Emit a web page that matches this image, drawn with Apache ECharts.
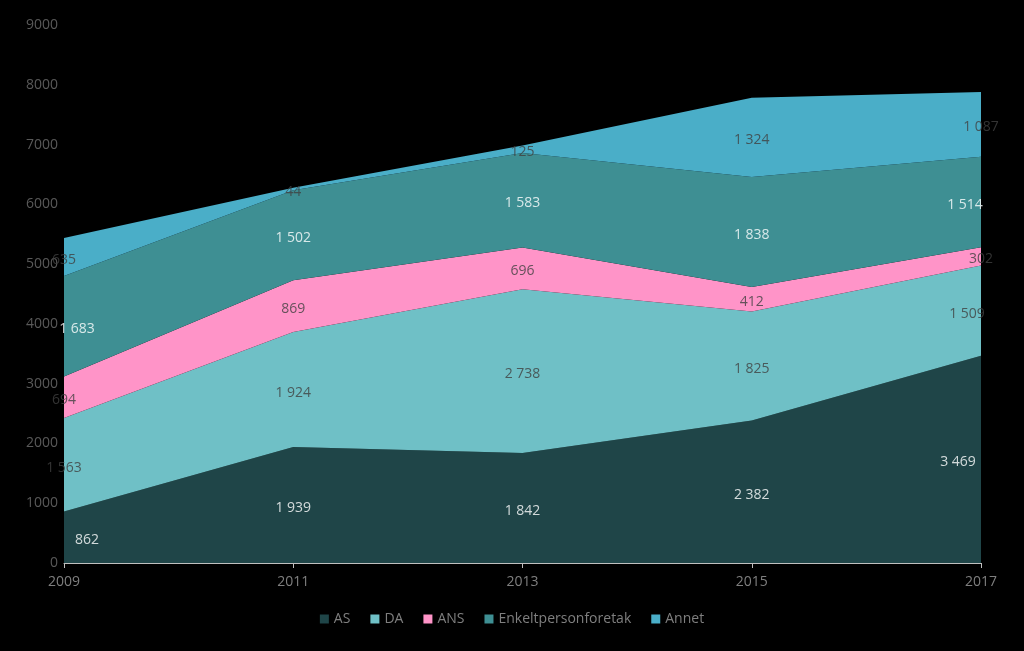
<!DOCTYPE html>
<html><head><meta charset="utf-8">
<script src="https://cdn.jsdelivr.net/npm/echarts@6/dist/echarts.min.js"></script>
<style>html,body{margin:0;padding:0;background:#000;}#c{width:1024px;height:651px;}</style>
</head><body><div id="c"></div>
<script>
var categories = ['2009','2011','2013','2015','2017'];
var seriesNames = ['AS','DA','ANS','Enkeltpersonforetak','Annet'];
var asValues = [862, 1939, 1842, 2382, 3469];
var daValues = [1563, 1924, 2738, 1825, 1509];
var ansValues = [694, 869, 696, 412, 302];
var enkValues = [1683, 1502, 1583, 1838, 1514];
var annetValues = [635, 44, 125, 1324, 1087];
var yTicks = [0,1000,2000,3000,4000,5000,6000,7000,8000,9000];

// styling (not data)
var colors = ['#1f4548', '#6fc0c6', '#ff94c8', '#3e8f93', '#4aaec8'];
var labelColors = ['#ffffff', '#404040', '#404040', '#ffffff', '#404040'];
var edgeShift = [[23, -23], [0, -14], [0, 0], [13, -16], [0, 0]]; // pixel nudges for first/last labels

var allValues = [asValues, daValues, ansValues, enkValues, annetValues];
function fmt(v){ return String(v).replace(/\B(?=(\d{3})+(?!\d))/g, ' '); }

var series = [];
allValues.forEach(function(vals, i){
  series.push({
    name: seriesNames[i], type: 'line', stack: 'total', data: vals,
    symbol: 'none', lineStyle: {width: 0}, areaStyle: {color: colors[i], opacity: 1},
    itemStyle: {color: colors[i]}, z: 2
  });
});
allValues.forEach(function(vals, i){
  var n = vals.length;
  var pts = vals.map(function(v, j){
    var base = 0;
    for (var k = 0; k < i; k++) base += allValues[k][j];
    var dx = j === 0 ? edgeShift[i][0] : (j === n - 1 ? edgeShift[i][1] : 0);
    return {value: [j, base + v / 2], raw: v, label: {offset: [dx, 3]}};
  });
  series.push({
    name: seriesNames[i] + '_lbl', type: 'scatter', data: pts, symbolSize: 0, silent: true, z: 5,
    label: {show: true, position: 'inside', color: labelColors[i], fontSize: 14,
      fontFamily: 'Open Sans', formatter: function(p){ return fmt(p.data.raw); }}
  });
});

var chart = echarts.init(document.getElementById('c'));
chart.setOption({
  backgroundColor: '#000000',
  animation: false,
  grid: {left: 64, right: 43, top: 25, bottom: 88},
  legend: {data: seriesNames, bottom: 20, left: 'center', itemWidth: 9, itemHeight: 9, itemGap: 20,
    icon: 'rect', textStyle: {color: '#7f7f7f', fontSize: 14, fontFamily: 'Open Sans'}},
  xAxis: {type: 'category', data: categories, boundaryGap: false,
    axisLine: {lineStyle: {color: '#bfbfbf', width: 1}},
    axisTick: {show: true, alignWithLabel: true, length: 5, lineStyle: {color: '#bfbfbf'}},
    axisLabel: {color: '#7f7f7f', fontSize: 14, fontFamily: 'Open Sans', margin: 12},
    splitLine: {show: false}},
  yAxis: {type: 'value', min: yTicks[0], max: yTicks[yTicks.length-1], interval: 1000,
    axisLine: {show: false}, axisTick: {show: false}, splitLine: {show: false},
    axisLabel: {color: '#595959', fontSize: 14, fontFamily: 'Open Sans', margin: 6,
      formatter: function(v){ return String(v); }}},
  series: series
});
</script></body></html>
